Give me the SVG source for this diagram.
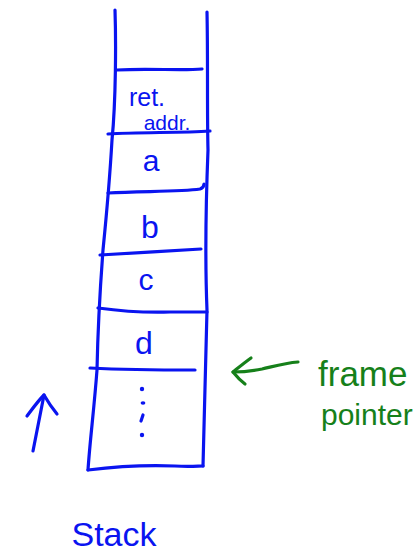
<svg xmlns="http://www.w3.org/2000/svg" width="417" height="553" viewBox="0 0 417 553">
  <style>
    .ink { fill: none; stroke: #0a14f0; stroke-width: 3.2; stroke-linecap: round; stroke-linejoin: round; }
    .ink-g { fill: none; stroke: #16801a; stroke-width: 3.2; stroke-linecap: round; stroke-linejoin: round; }
    .lbl { font-family: "Liberation Sans", "DejaVu Sans", sans-serif; fill: #0a14f0; text-anchor: middle; }
    .lbl-g { font-family: "Liberation Sans", "DejaVu Sans", sans-serif; fill: #16801a; }
    .dot { fill: #0a14f0; }
  </style>
  <rect width="417" height="553" fill="#ffffff"/>

  <!-- stack column outline -->
  <g id="stack">
    <path class="ink" d="M115 10 C116 40 116 100 112 140 C110 175 108 200 103 250 C100 290 98 320 97 370 C94 410 90 440 88 470"/>
    <path class="ink" d="M207 12 C208 60 207 110 208 150 C206 200 205 260 207 310 C206 350 205 400 203 466"/>
    <path class="ink" d="M88 470 C120 466 150 465 175 466 C190 467 198 466 203 466"/>
  </g>

  <!-- slots -->
  <g id="slot-ret-addr">
    <path class="ink" d="M117 70 C150 68 180 71 202 69"/>
    <text class="lbl" x="147" y="106" font-size="25">ret.</text>
    <text class="lbl" x="167" y="130" font-size="21">addr.</text>
  </g>
  <g id="slot-a">
    <path class="ink" d="M108 134 C140 132 180 133 210 131"/>
    <text class="lbl" x="151" y="171" font-size="30">a</text>
  </g>
  <g id="slot-b">
    <path class="ink" d="M108 193 C140 191 180 192 200 189 C203 188 204 186 204 184"/>
    <text class="lbl" x="150" y="238" font-size="32">b</text>
  </g>
  <g id="slot-c">
    <path class="ink" d="M100 255 C130 253 170 251 201 249"/>
    <text class="lbl" x="146" y="290" font-size="30">c</text>
  </g>
  <g id="slot-d">
    <path class="ink" d="M98 308 C120 311 140 313 170 312 C185 312 198 312 207 312"/>
    <text class="lbl" x="144" y="354" font-size="32">d</text>
  </g>
  <g id="slot-rest">
    <path class="ink" d="M90 368 C130 370 160 370 195 370"/>
    <circle class="dot" cx="142" cy="389" r="2.2"/>
    <ellipse class="dot" cx="143" cy="403" rx="2.4" ry="1.8"/>
    <path class="ink" d="M143 415 L141 421"/>
    <circle class="dot" cx="142" cy="435" r="2.2"/>
  </g>

  <!-- growth direction -->
  <g id="growth-arrow">
    <path class="ink" d="M33 451 C36 435 40 415 44 395"/>
    <path class="ink" d="M27 416 C33 408 38 401 44 395 C48 402 52 408 57 414"/>
  </g>

  <g id="frame-pointer">
    <text class="lbl-g" x="318" y="386" font-size="35">frame</text>
    <text class="lbl-g" x="321" y="425" font-size="30">pointer</text>
  </g>

  <g id="connectors">
    <path class="ink-g" d="M298 362 C285 363 275 366 262 369 C252 371 242 372 233 372"/>
    <path class="ink-g" d="M251 358 C244 363 238 368 233 372 C237 377 241 381 245 384"/>
  </g>

  <g id="stack-label">
    <text class="lbl" x="114" y="546" font-size="34">Stack</text>
  </g>
</svg>
